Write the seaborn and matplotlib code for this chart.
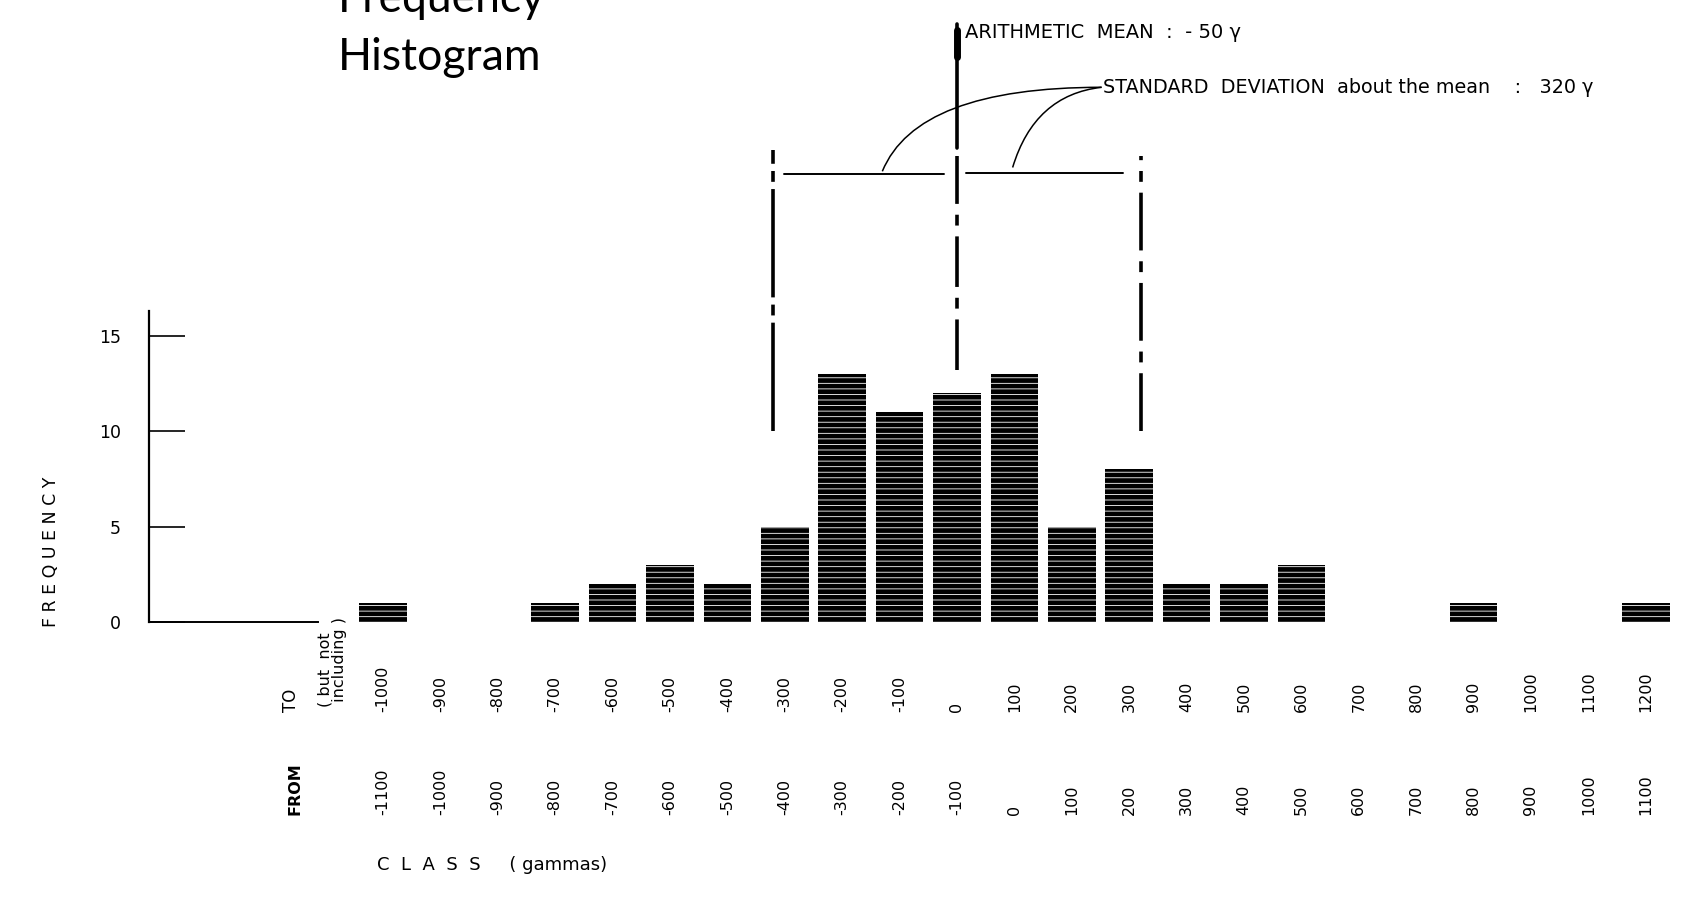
import matplotlib
matplotlib.use("Agg")
import matplotlib.pyplot as plt
import seaborn as sns
import numpy as np
import pandas as pd
from matplotlib.path import Path
from matplotlib.patches import PathPatch

# ---------------- data ----------------
class_from = [-1100, -1000, -900, -800, -700, -600, -500, -400, -300, -200, -100,
              0, 100, 200, 300, 400, 500, 600, 700, 800, 900, 1000, 1100]
class_to = [-1000, -900, -800, -700, -600, -500, -400, -300, -200, -100, 0,
            100, 200, 300, 400, 500, 600, 700, 800, 900, 1000, 1100, 1200]
frequency = [1, 0, 0, 1, 2, 3, 2, 5, 13, 11, 12, 13, 5, 8, 2, 2, 3, 0, 0, 1, 0, 0, 1]
y_ticks = [0, 5, 10, 15]
mean_value = -50
sd_value = 320

# ---------------- style ----------------
sns.set_theme(style="white")
plt.rcParams["font.family"] = ["DejaVu Sans"]
plt.rcParams["hatch.linewidth"] = 3.4

W, H = 1702, 898
fig = plt.figure(figsize=(W / 100, H / 100), dpi=100)
ax_left_px, ax_right_px, base_px = 148.7, 1690.0, 622.0
ax = fig.add_axes([ax_left_px / W, (H - base_px) / H,
                   (ax_right_px - ax_left_px) / W, base_px / H])

edges = class_from + [class_to[-1]]
mids = [(a + b) / 2 for a, b in zip(class_from, class_to)]
df = pd.DataFrame({"mid": mids, "freq": frequency})

sns.histplot(data=df, x="mid", weights="freq", bins=edges, shrink=0.83,
             color="white", edgecolor="black", linewidth=0, hatch="---",
             alpha=1, ax=ax)

ax.set_xlim(-1458, 1227)
ax.set_ylim(0, 32.57)
ax.set_xlabel("")
ax.set_ylabel("")
ax.set_xticks([])
ax.set_yticks(y_ticks)
ax.set_yticklabels([str(t) for t in y_ticks], fontsize=12.5)
ax.tick_params(axis="y", direction="in", length=26, width=1.2, pad=20,
               colors="black", left=True)
for s in ["top", "right"]:
    ax.spines[s].set_visible(False)
ax.spines["left"].set_bounds(0, 16.3)
ax.spines["left"].set_linewidth(1.6)
ax.spines["left"].set_color("black")
ax.spines["bottom"].set_bounds(-1458, -1163)
ax.spines["bottom"].set_linewidth(1.4)
ax.spines["bottom"].set_color("black")
ax.grid(False)

# ---------------- mean & SD marks ----------------
lo, hi = mean_value - sd_value, mean_value + sd_value
ax.plot([mean_value, mean_value], [24.8, 31.3], color="black", lw=2.6)
ax.plot([mean_value, mean_value], [29.6, 31.0], color="black", lw=5)
ax.plot([mean_value, mean_value], [13.2, 24.4], color="black", lw=2.6,
        dashes=(14, 3, 3, 3))
ax.plot([lo, lo], [10.0, 24.7], color="black", lw=2.6, dashes=(30, 2, 3, 2))
ax.plot([hi, hi], [10.0, 24.4], color="black", lw=2.6, dashes=(16, 3, 3, 3))
ax.plot([lo + 18, mean_value - 22], [23.45, 23.45], color="black", lw=1.4)
ax.plot([mean_value + 16, hi - 30], [23.5, 23.5], color="black", lw=1.4)

end_pt = (202, 28.0)
for p0, p1 in [((-180, 23.6), (-120, 28.0)), ((47, 23.8), (85, 27.6))]:
    path = Path([p0, p1, end_pt], [Path.MOVETO, Path.CURVE3, Path.CURVE3])
    ax.add_patch(PathPatch(path, fill=False, edgecolor="black", lw=1.1))

ax.text(-36, 30.85, "ARITHMETIC  MEAN  :  - 50 γ", fontsize=14, va="center",
        ha="left", color="black")
ax.text(end_pt[0] + 2, end_pt[1],
        "STANDARD  DEVIATION  about the mean    :   320 γ",
        fontsize=13.8, va="center", ha="left", color="black")

# ---------------- class labels ----------------
px_per_unit = base_px / 32.57
to_y = -(712 - base_px) / px_per_unit
from_y = -(815 - base_px) / px_per_unit
for m, t, f in zip(mids, class_to, class_from):
    ax.text(m, to_y, str(t), rotation=90, rotation_mode="anchor", ha="left",
            va="center", fontsize=11.5, color="black", clip_on=False)
    ax.text(m, from_y, str(f), rotation=90, rotation_mode="anchor", ha="left",
            va="center", fontsize=11.5, color="black", clip_on=False)

ax.text(-1210, to_y, "TO", rotation=90, rotation_mode="anchor", ha="left",
        va="center", fontsize=12, color="black", clip_on=False)
ax.text(-1139, to_y + 0.25, "( but  not\n including )", rotation=90,
        rotation_mode="anchor", ha="left", va="center", fontsize=11.5,
        color="black", clip_on=False, linespacing=0.95)
ax.text(-1203, from_y, "FROM", rotation=90, rotation_mode="anchor", ha="left",
        va="center", fontsize=11.5, fontweight="bold", color="black",
        clip_on=False)

fig.text(376.6 / W, 1 - 865 / H, "C  L  A  S  S     ( gammas)", fontsize=13,
         va="center", ha="left", color="black")
fig.text(51 / W, 1 - 552 / H, "F R E Q U E N C Y", rotation=90,
         fontsize=12.5, va="center", ha="center", color="black")

fig.text(337.6 / W, 1 - 69.5 / H, "Histogram", fontsize=32, va="baseline",
         ha="left", color="black", family=["Lato", "DejaVu Sans"])
fig.text(337.6 / W, 1 - 12 / H, "Frequency", fontsize=32, va="baseline",
         ha="left", color="black", family=["Lato", "DejaVu Sans"])

fig.savefig("out.png", dpi=100, facecolor="white")
